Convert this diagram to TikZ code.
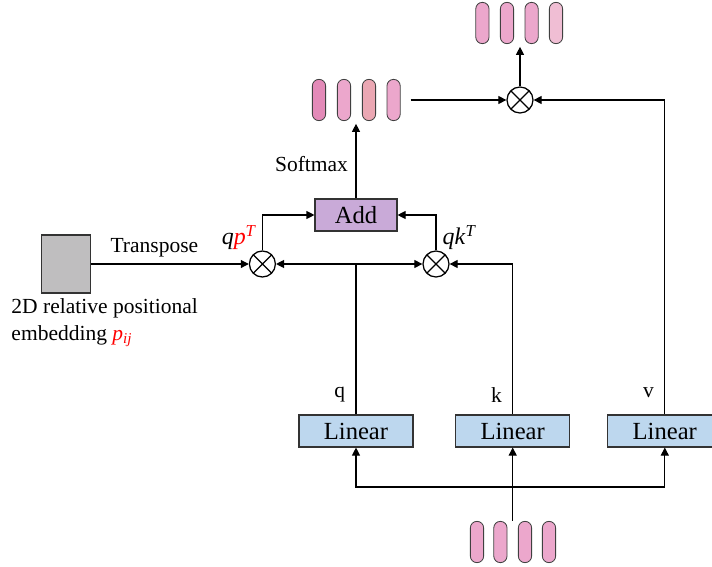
\documentclass[tikz,border=0pt]{standalone}
\usepackage{fontspec}
\setmainfont{Liberation Serif}
\usetikzlibrary{positioning,arrows.meta,calc}
\definecolor{pillpink}{HTML}{ECA7CC}
\definecolor{pilldark}{HTML}{E38AB8}
\definecolor{pillsalmon}{HTML}{EBA7B3}
\definecolor{pilllight}{HTML}{F0BED4}
\definecolor{addlilac}{HTML}{C9AAD8}
\definecolor{linblue}{HTML}{BDD7EE}
\definecolor{embgray}{HTML}{BFBEBF}

\begin{document}
\begin{tikzpicture}[
  font=\fontsize{15.3}{19.2}\selectfont,
  pill/.style={draw=black!75, line width=0.6pt, rounded corners=0.16cm,
               minimum width=0.33cm, minimum height=1.03cm, inner sep=0pt},
  mul/.style={circle, draw, line width=0.9pt, minimum size=0.65cm, inner sep=0pt,
              path picture={\draw[line width=0.9pt]
                (path picture bounding box.north west) -- (path picture bounding box.south east)
                (path picture bounding box.north east) -- (path picture bounding box.south west);}},
  box/.style={draw=black!80, line width=0.8pt, minimum height=0.8cm,
              font=\fontsize{17.5}{20}\selectfont},
  lin/.style={box, fill=linblue, minimum width=2.85cm},
  arr/.style={-{Triangle[length=2mm,width=2mm]}, line width=0.8pt},
  dbl/.style={{Triangle[length=2mm,width=2mm]}-{Triangle[length=2mm,width=2mm]}, line width=0.8pt},
  ln/.style={line width=0.8pt},
]
  \useasboundingbox (0,0) rectangle (17.8,-14.175);

  % output tokens
  \node[pill, fill=pillpink]  (op1) at (12.06,-0.575) {};
  \node[pill, fill=pillpink]  (op2) at (12.675,-0.575) {};
  \node[pill, fill=pillpink]  (op3) at (13.29,-0.575) {};
  \node[pill, fill=pilllight] (op4) at (13.9,-0.575) {};

  % attention weights
  \node[pill, fill=pilldark]   (mp1) at (7.975,-2.5) {};
  \node[pill, fill=pillpink]   (mp2) at (8.6,-2.5) {};
  \node[pill, fill=pillsalmon] (mp3) at (9.225,-2.5) {};
  \node[pill, fill=pillpink]   (mp4) at (9.84,-2.5) {};

  % input tokens
  \node[pill, fill=pillpink] (ip1) at (11.925,-13.55) {};
  \node[pill, fill=pillpink] (ip2) at (12.51,-13.55) {};
  \node[pill, fill=pillpink] (ip3) at (13.125,-13.55) {};
  \node[pill, fill=pillpink] (ip4) at (13.725,-13.55) {};

  \node[mul] (otop)   at (13.0,-2.5) {};
  \node[mul] (oleft)  at (6.56,-6.6) {};
  \node[mul] (oright) at (10.9,-6.6) {};

  \node[box, fill=addlilac, minimum width=2.05cm] (add) at (8.9,-5.375) {Add};
  \node[draw=black!80, line width=0.8pt, fill=embgray, minimum width=1.225cm,
        minimum height=1.45cm] (emb) at (1.66,-6.6) {};
  \node[anchor=west, align=left, inner sep=0pt] (embtxt) at (0.28,-8.06)
    {2D relative positional\\embedding \textit{\textcolor{red}{p\textsubscript{ij}}}};

  \node[lin] (lq) at (8.9,-10.775)  {Linear};
  \node[lin] (lk) at (12.8175,-10.775) {Linear};
  \node[lin] (lv) at (16.62,-10.775) {Linear};

  \coordinate (fork) at (12.8175,-12.175);
  \coordinate (tokin) at ($(ip2.north)!0.5!(ip3.north)$);

  % projections
  \draw[arr] (tokin) -- (tokin |- lk.south);
  \draw[arr] (fork) -| (lq.south);
  \draw[arr] (fork) -| (lv.south);

  \draw[ln] (lq.north) -- (lq.north |- oleft) node[pos=0.13, left=4pt] {q};
  \draw[arr] (lk.north) |- (oright) node[pos=0.065, left=4pt] {k};
  \draw[arr] (lv.north) |- (otop) node[pos=0.035, left=4pt] {v};
  \draw[dbl] (oleft) -- (oright);

  % relative position branch
  \draw[arr] (emb) -- node[above=1pt, pos=0.4] {Transpose} (oleft);
  \draw[arr] (oleft.north) |- (add.west)
    node[pos=0.18, left=1pt] {\fontsize{17}{20}\selectfont\textit{q\textcolor{red}{p}}\textsuperscript{\textit{\textcolor{red}{T}}}};
  \draw[arr] (oright.north) |- (add.east)
    node[pos=0.18, right=1pt] {\fontsize{17}{20}\selectfont\textit{qk}\textsuperscript{\textit{T}}};

  \draw[arr, shorten >=2pt] (add.north) -- (add.north |- mp2.south)
    node[pos=0.45, left=2pt] {Softmax};
  \draw[arr] ([xshift=0.25cm]mp4.east) -- (otop);
  \draw[arr, shorten >=2pt] (otop) -- (otop |- op2.south);
\end{tikzpicture}
\end{document}
